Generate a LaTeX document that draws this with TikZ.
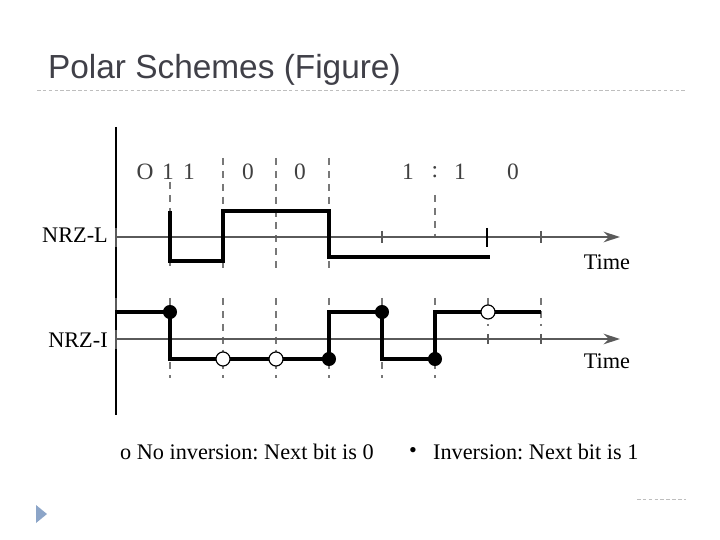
\documentclass[tikz,border=0pt]{standalone}
\usepackage{fontspec}
\setmainfont{Liberation Serif}
\newfontfamily\titlefont{Liberation Sans}
\usetikzlibrary{arrows.meta}
\definecolor{titlegray}{RGB}{64,64,72}
\definecolor{axisgray}{RGB}{90,90,90}
\definecolor{dashgray}{RGB}{120,120,120}
\definecolor{rulegray}{RGB}{190,190,190}
\definecolor{bulletblue}{RGB}{140,165,200}
\frenchspacing

\begin{document}
\begin{tikzpicture}[x=0.03cm,y=-0.03cm,
  sig/.style={line width=2.8pt,black,line join=miter},
  timeaxis/.style={line width=1.8pt,axisgray,-{Stealth[length=14pt,width=9pt]}},
  bitline/.style={line width=1.1pt,dashgray,dash pattern=on 6pt off 5pt},
  tickmark/.style={line width=1.2pt,axisgray},
  lbl/.style={font=\fontsize{19}{19}\selectfont},
  bitlbl/.style={font=\fontsize{20}{20}\selectfont,text=black!75},
  full/.style={circle,fill=black,inner sep=0pt,minimum size=12pt},
  hollow/.style={circle,draw=black,line width=1pt,fill=white,inner sep=0pt,minimum size=12pt}]
\useasboundingbox (0,0) rectangle (720,540);
% Title
\node[anchor=base west,text=titlegray,font=\titlefont\fontsize{28.5}{28.5}\selectfont] (title) at (44,79) {Polar Schemes (Figure)};
\draw[rulegray,line width=0.8pt,dash pattern=on 3pt off 2pt] (37,90) -- (686,90);
\draw[rulegray,line width=0.8pt,dash pattern=on 3pt off 2pt] (637,499) -- (686,499);
\fill[bulletblue] (36,505) -- (47,514) -- (36,523) -- cycle;
% Bits
\node[bitlbl] (bo) at (145,172) {O};
\node[bitlbl] (ba) at (168,172) {1};
\node[bitlbl] (bb) at (189,172) {1};
\node[bitlbl] (bc) at (248,172) {0};
\node[bitlbl] (bd) at (300,172) {0};
\node[bitlbl] (be) at (408,172) {1};
\node[bitlbl] (bf) at (435,172) {:};
\node[bitlbl] (bg) at (460,172) {1};
\node[bitlbl] (bh) at (513,172) {0};
% Bit boundaries
\draw[bitline] (170,182) -- (170,268);
\foreach \x in {223,276,329}
  \draw[bitline] (\x,158) -- (\x,269);
\draw[bitline] (435,195) -- (435,237);
\foreach \x in {170,223,276,329,382,435}
  \draw[bitline] (\x,298) -- (\x,378);
\foreach \x in {488,541}
  \draw[bitline] (\x,298) -- (\x,326);
% Axes
\draw[line width=1.6pt] (116,127) -- (116,415);
\draw[timeaxis] (116,237) -- (620,237);
\draw[timeaxis] (116,339) -- (620,339);
\draw[line width=2pt,axisgray] (116,228) -- (116,247);
\draw[line width=2pt,axisgray] (116,330) -- (116,349);
\draw[line width=1.2pt,axisgray] (116,298) -- (116,310);
\foreach \x in {382,541}
  \draw[tickmark] (\x,231) -- (\x,243);
\draw[line width=2pt,black] (487,228) -- (487,247);
\foreach \x in {488,541}
  \draw[tickmark] (\x,334) -- (\x,344);
\node[lbl] (tl) at (607,262) {Time};
\node[lbl] (ti) at (607,361) {Time};
\node[lbl] (nl) at (75,235) {NRZ-L};
\node[lbl] (ni) at (78,340) {NRZ-I};
% NRZ-L
\draw[sig] (170,211) -- (170,261) -- (223,261) -- (223,211) -- (329,211) -- (329,257) -- (490,257);
% NRZ-I
\draw[sig] (116,312) -- (170,312) -- (170,359) -- (329,359) -- (329,312) -- (382,312) -- (382,359) -- (435,359) -- (435,312) -- (541,312);
\node[full] (i1) at (170,312) {};
\node[hollow] (i2) at (223,359) {};
\node[hollow] (i3) at (276,359) {};
\node[full] (i4) at (329,359) {};
\node[full] (i5) at (382,312) {};
\node[full] (i6) at (435,359) {};
\node[hollow] (i7) at (488,312) {};
% Legend
\node[lbl,anchor=west] (leg0) at (116,452) {o No inversion: Next bit is 0};
\node[lbl] (bul) at (413,452) {•};
\node[lbl,anchor=west] (leg1) at (429,452) {Inversion: Next bit is 1};
\end{tikzpicture}
\end{document}
